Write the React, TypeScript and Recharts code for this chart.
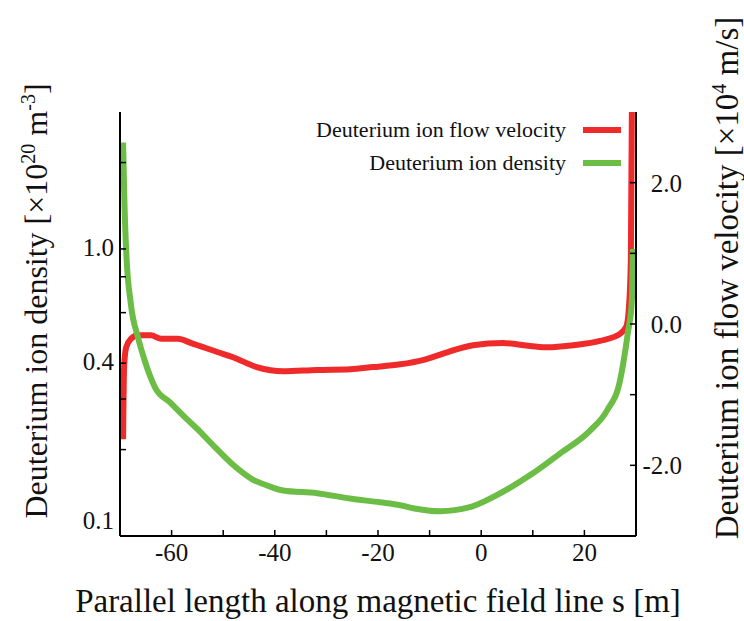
import React from "react";
import { LineChart, Line, XAxis, YAxis, Legend, Label } from "recharts";

// parallel position s [m] and values
const sVelocity = [
  -69.4, -69.2, -68.8, -67.9, -66.5, -64, -62, -58.8, -56.2, -51, -48.1, -43.5,
  -38.4, -31.8, -25.4, -21, -15.7, -11.3, -6.6, -1.6, 4.2, 9.5, 13, 17.8, 23,
  26.9, 28.1, 28.6, 29.0, 29.2,
];
const velocity = [
  -1.63, -0.6, -0.33, -0.21, -0.16, -0.16, -0.21, -0.21, -0.27, -0.4, -0.47,
  -0.61, -0.67, -0.65, -0.64, -0.61, -0.57, -0.51, -0.4, -0.3, -0.27, -0.31,
  -0.33, -0.3, -0.24, -0.14, -0.04, 0.2, 0.9, 3.0,
];

const sDensity = [
  -69.4, -69.2, -68.8, -67.9, -66.5, -65.2, -64.2, -63.2, -60.3, -57.4, -54.5,
  -51.6, -48.1, -44.2, -41.5, -38.4, -31.8, -25.4, -19.6, -15.7, -13.2, -8,
  -2.2, 3.1, 9.5, 15.3, 21.1, 24.4, 26.9, 28.4, 29.2, 29.4,
];
const density = [
  2.35, 1.6, 0.98, 0.644, 0.491, 0.408, 0.362, 0.329, 0.292, 0.259, 0.231,
  0.204, 0.177, 0.157, 0.15, 0.144, 0.141, 0.135, 0.131, 0.128, 0.125, 0.122,
  0.126, 0.139, 0.163, 0.194, 0.233, 0.274, 0.348, 0.507, 0.66, 1.0,
];

const seriesNames = ["Deuterium ion flow velocity", "Deuterium ion density"];

const xTicks = [-60, -50, -40, -30, -20, -10, 0, 10, 20];
const xLabels = [-60, -40, -20, 0, 20];
const densityTicks = [0.1, 0.2, 0.3, 0.4, 0.5, 0.6, 0.7, 0.8, 0.9, 1.0, 2.0];
const densityLabels = [0.1, 0.4, 1.0];
const velocityTicks = [-2, -1, 0, 1, 2];
const velocityLabels = [-2, 0, 2];

const velocityData = sVelocity.map((s, i) => ({ s, v: velocity[i] }));
const densityData = sDensity.map((s, i) => ({ s, n: density[i] }));

const FONT = '"Liberation Serif", "Times New Roman", serif';
const RED = "#ee2a2a";
const GREEN = "#6cbd45";

function BottomTick(props: any) {
  const { x, y, payload } = props;
  const v = payload.value;
  return (
    <g>
      <line x1={x} y1={y} x2={x} y2={y - 6} stroke="#000" strokeWidth={1.5} />
      {xLabels.includes(v) && (
        <text x={x} y={y + 25} textAnchor="middle" fontSize={25} fontFamily={FONT} fill="#111">
          {String(v)}
        </text>
      )}
    </g>
  );
}

function TopTick(props: any) {
  const { x, y } = props;
  return <line x1={x} y1={y} x2={x} y2={y + 6} stroke="#000" strokeWidth={1.5} />;
}

function LeftTick(props: any) {
  const { x, y, payload } = props;
  const v = payload.value;
  // the 0.1 label sits a little above the corner
  const shift = v === 0.1 ? -14 : 0;
  return (
    <g>
      <line x1={x} y1={y} x2={x + 6} y2={y} stroke="#000" strokeWidth={1.5} />
      {densityLabels.includes(v) && (
        <text x={x - 6} y={y + 7 + shift} textAnchor="end" fontSize={25} fontFamily={FONT} fill="#111">
          {v.toFixed(1)}
        </text>
      )}
    </g>
  );
}

function RightTick(props: any) {
  const { x, y, payload } = props;
  const v = payload.value;
  return (
    <g>
      <line x1={x} y1={y} x2={x - 6} y2={y} stroke="#000" strokeWidth={1.5} />
      {velocityLabels.includes(v) && (
        <text x={x + 46} y={y + 9} textAnchor="end" fontSize={25} fontFamily={FONT} fill="#111">
          {v.toFixed(1)}
        </text>
      )}
    </g>
  );
}

function LegendBox(props: any) {
  const items = [...(props.payload || [])].sort(
    (a: any, b: any) => seriesNames.indexOf(a.value) - seriesNames.indexOf(b.value)
  );
  return (
    <div style={{ fontFamily: FONT, fontSize: 22, color: "#111" }}>
      {items.map((p: any) => (
        <div
          key={p.value}
          style={{ display: "flex", justifyContent: "flex-end", alignItems: "center", height: 33 }}
        >
          <span>{p.value}</span>
          <span
            style={{ display: "inline-block", width: 38, height: 6, background: p.color, marginLeft: 17 }}
          />
        </div>
      ))}
    </div>
  );
}

export default function App() {
  return (
    <div style={{ position: "absolute", left: 0, top: 0, width: 744, height: 621, background: "#fff" }}>
      <LineChart
        width={744}
        height={621}
        margin={{ top: 112, right: 48, bottom: 55, left: 60 }}
      >
        <XAxis
          xAxisId="bottom"
          dataKey="s"
          type="number"
          domain={[-70, 30]}
          ticks={xTicks}
          allowDataOverflow
          height={30}
          tickSize={0}
          tickMargin={0}
          tick={<BottomTick />}
          axisLine={{ stroke: "#000", strokeWidth: 2 }}
        >
          <Label
            content={() => (
              <text x={378} y={612} textAnchor="middle" fontSize={33} fontFamily={FONT} fill="#111">
                Parallel length along magnetic field line s [m]
              </text>
            )}
          />
        </XAxis>
        <XAxis
          xAxisId="top"
          orientation="top"
          dataKey="s"
          type="number"
          domain={[-70, 30]}
          ticks={xTicks}
          allowDataOverflow
          height={0}
          tickSize={0}
          tickMargin={0}
          tick={<TopTick />}
          axisLine={{ stroke: "#000", strokeWidth: 2 }}
        />
        <YAxis
          yAxisId="left"
          scale="log"
          type="number"
          domain={[0.1, 3]}
          ticks={densityTicks}
          allowDataOverflow
          width={60}
          tickSize={0}
          tickMargin={0}
          tick={<LeftTick />}
          axisLine={{ stroke: "#000", strokeWidth: 2 }}
        >
          <Label
            content={() => (
              <text
                x={47}
                y={301}
                transform="rotate(-90, 47, 301)"
                textAnchor="middle"
                fontSize={32}
                fontFamily={FONT}
                fill="#111"
              >
                Deuterium ion density [×10
                <tspan dy={-12} fontSize={20}>20</tspan>
                <tspan dy={12}> m</tspan>
                <tspan dy={-12} fontSize={20}>-3</tspan>
                <tspan dy={12}>]</tspan>
              </text>
            )}
          />
        </YAxis>
        <YAxis
          yAxisId="right"
          orientation="right"
          type="number"
          domain={[-3, 3]}
          ticks={velocityTicks}
          allowDataOverflow
          width={60}
          tickSize={0}
          tickMargin={0}
          tick={<RightTick />}
          axisLine={{ stroke: "#000", strokeWidth: 2 }}
        >
          <Label
            content={() => (
              <text
                x={738}
                y={278}
                transform="rotate(-90, 738, 278)"
                textAnchor="middle"
                fontSize={33}
                fontFamily={FONT}
                fill="#111"
              >
                Deuterium ion flow velocity [×10
                <tspan dy={-12} fontSize={20}>4</tspan>
                <tspan dy={12}> m/s]</tspan>
              </text>
            )}
          />
        </YAxis>
        <Legend
          layout="vertical"
          align="center"
          verticalAlign="middle"
          content={<LegendBox />}
          wrapperStyle={{ top: 113, left: 200, width: 421, height: 66 }}
        />
        <Line
          name={seriesNames[0]}
          data={velocityData}
          dataKey="v"
          xAxisId="bottom"
          yAxisId="right"
          type="monotone"
          stroke={RED}
          strokeWidth={6}
          dot={false}
          isAnimationActive={false}
        />
        <Line
          name={seriesNames[1]}
          data={densityData}
          dataKey="n"
          xAxisId="bottom"
          yAxisId="left"
          type="monotone"
          stroke={GREEN}
          strokeWidth={6}
          dot={false}
          isAnimationActive={false}
        />
      </LineChart>
    </div>
  );
}
